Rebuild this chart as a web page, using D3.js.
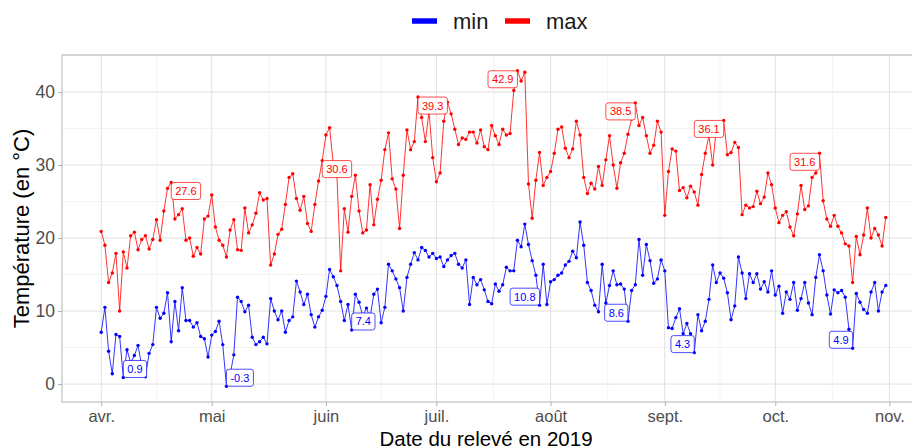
<!DOCTYPE html>
<html>
<head>
<meta charset="utf-8">
<script src="https://cdn.jsdelivr.net/npm/d3@7"></script>
<style>
  body { margin: 0; background: #fff; }
  svg { display: block; font-family: "Liberation Sans", Arial, sans-serif; }
</style>
</head>
<body>
<svg id="chart" width="912" height="448"></svg>
<script>
// Daily readings, one value per day starting on startDate
const startDate = "2019-04-01";

const tminValues = [
  7.1, 10.5, 4.5, 1.4, 6.8, 6.5, 0.9, 4.7, 2.9, 3.9, 5.3, 2.4, 1.0, 4.2, 5.4, 10.5, 9.0, 9.7, 12.5, 5.8,
  11.3, 7.3, 13.2, 8.7, 8.7, 7.8, 8.4, 6.5, 6.2, 3.7,
  6.7, 7.2, 8.6, 5.4, -0.3, 1.3, 4.0, 11.9, 11.3, 9.9, 10.8, 6.4, 5.4, 5.8, 6.4, 5.5, 11.7, 10.0, 8.8, 10.0,
  7.1, 8.7, 9.2, 14.1, 12.6, 10.9, 12.3, 9.5, 7.8, 9.2, 10.1,
  12.0, 15.7, 14.7, 13.5, 11.3, 8.7, 10.9, 7.4, 12.3, 11.2, 9.3, 10.4, 9.1, 12.3, 13.0, 8.4, 10.5, 16.4, 15.5, 14.4,
  13.2, 10.0, 14.6, 16.4, 18.0, 17.0, 18.7, 18.3, 17.4, 17.9,
  17.2, 17.4, 16.1, 17.0, 17.6, 17.9, 16.4, 15.9, 17.0, 10.9, 14.6, 13.6, 14.3, 12.9, 11.3, 11.0, 13.7, 12.7, 13.6, 16.0,
  15.5, 15.5, 19.7, 18.8, 21.9, 19.1, 16.9, 14.9, 10.8, 16.4, 10.9,
  14.0, 14.3, 14.9, 15.2, 16.3, 16.8, 18.2, 17.3, 22.2, 19.0, 13.9, 12.8, 10.8, 9.9, 16.4, 11.1, 13.5, 15.5, 13.6, 13.7,
  13.0, 8.6, 12.8, 13.6, 19.8, 14.9, 19.1, 16.9, 13.8, 14.4, 17.0,
  15.5, 7.7, 7.6, 9.1, 10.3, 6.9, 8.3, 6.9, 4.3, 9.5, 7.3, 8.6, 11.6, 16.3, 13.9, 15.2, 14.5, 12.5, 8.8, 10.7,
  17.4, 15.2, 11.7, 15.1, 13.9, 15.1, 13.0, 14.0, 12.6, 15.5,
  12.2, 13.4, 9.7, 12.6, 11.6, 13.9, 10.1, 11.7, 13.9, 11.1, 9.5, 14.6, 17.7, 15.5, 12.2, 9.6, 12.9, 12.5, 12.8, 11.9,
  7.5, 4.9, 12.4, 11.2, 10.2, 9.7, 12.6, 13.9, 10.0, 12.6, 13.5
];

const tmaxValues = [
  20.9, 19.0, 13.9, 15.2, 17.9, 10.0, 18.1, 15.9, 20.3, 20.8, 18.4, 19.8, 20.3, 18.5, 19.8, 22.5, 19.7, 23.7, 26.8, 27.6,
  22.6, 23.2, 24.0, 19.7, 20.0, 17.5, 18.7, 17.8, 22.6, 23.0,
  25.9, 21.5, 19.7, 19.0, 17.4, 21.1, 22.5, 18.4, 18.3, 24.1, 20.7, 21.8, 23.4, 26.2, 25.2, 25.4, 16.3, 17.8, 20.5, 21.2,
  24.6, 28.3, 28.8, 25.4, 23.8, 25.7, 22.0, 20.9, 24.6, 27.8, 30.6,
  34.1, 35.1, 30.2, 28.5, 15.5, 24.0, 20.8, 25.7, 28.6, 23.7, 20.7, 21.1, 27.3, 21.8, 25.3, 27.9, 32.1, 34.4, 28.1, 26.7,
  21.3, 28.6, 34.8, 32.1, 33.2, 39.3, 36.5, 33.2, 37.3, 31.0,
  27.7, 28.9, 36.0, 38.6, 37.0, 34.9, 32.8, 33.7, 33.5, 34.5, 34.5, 33.0, 34.8, 32.5, 32.1, 35.4, 34.0, 32.8, 34.9, 34.1,
  34.3, 40.2, 42.9, 41.5, 42.7, 27.4, 22.7, 27.9, 31.7, 27.2, 28.3,
  29.1, 31.6, 34.9, 35.2, 32.3, 31.0, 32.2, 36.0, 34.1, 28.3, 26.1, 27.5, 26.7, 29.8, 27.2, 30.7, 34.0, 30.0, 26.8, 30.3,
  31.6, 34.2, 36.3, 38.5, 35.4, 36.5, 34.0, 31.6, 32.7, 36.0, 34.5,
  23.1, 29.1, 32.2, 31.9, 26.5, 26.9, 25.5, 27.1, 26.3, 24.5, 28.7, 31.6, 34.0, 30.0, 35.0, 35.4, 36.1, 31.4, 31.7, 33.1,
  32.4, 23.2, 24.5, 24.1, 24.3, 26.4, 24.7, 25.6, 28.9, 27.3,
  24.1, 22.1, 23.1, 23.6, 21.5, 20.3, 23.3, 27.2, 23.9, 24.4, 28.3, 28.9, 31.6, 25.1, 22.6, 21.6, 23.1, 21.6, 20.7, 19.2,
  18.9, 13.9, 20.2, 17.7, 20.4, 24.1, 20.0, 21.3, 20.4, 18.9, 22.8
];

const monthTickLabels = ["avr.", "mai", "juin", "juil.", "août", "sept.", "oct.", "nov."];
const seriesNames = ["min", "max"];
const seriesColors = ["#0000ff", "#ff0000"];
const xTitle = "Date du relevé en 2019";
const yTitle = "Température (en °C)";

// ---- layout ----
const W = 912, H = 448;
const panel = { left: 62, top: 55, right: 925, bottom: 402 };
const svg = d3.select("#chart");

const t0 = d3.utcParse("%Y-%m-%d")(startDate);
const dates = tminValues.map((_, i) => d3.utcDay.offset(t0, i));
const tEnd = dates[dates.length - 1];
const tSpan = tEnd - t0;

const x = d3.scaleUtc()
  .domain([new Date(+t0 - tSpan * 0.05), new Date(+tEnd + tSpan * 0.05)])
  .range([panel.left, panel.right]);

const [vLo, vHi] = d3.extent(tminValues.concat(tmaxValues));
const vPad = (vHi - vLo) * 0.05;
const y = d3.scaleLinear()
  .domain([vLo - vPad, vHi + vPad])
  .range([panel.bottom, panel.top]);

// clip everything drawn inside the panel
svg.append("defs").append("clipPath").attr("id", "panelClip")
  .append("rect")
  .attr("x", panel.left).attr("y", panel.top)
  .attr("width", panel.right - panel.left).attr("height", panel.bottom - panel.top);

const grid = svg.append("g").attr("clip-path", "url(#panelClip)");

// gridlines: major at axis breaks, minor half-way between them
const yMajor = y.ticks(5);
const yStep = yMajor[1] - yMajor[0];
const yMinor = d3.range(yMajor[0] - yStep / 2, y.domain()[1], yStep).filter(v => v > y.domain()[0]);
const xMajor = d3.utcMonth.range(d3.utcMonth.ceil(x.domain()[0]), x.domain()[1]);
const xMinor = d3.pairs(xMajor).map(([a, b]) => new Date((+a + +b) / 2));

grid.selectAll(".ymin").data(yMinor).join("line")
  .attr("x1", panel.left).attr("x2", panel.right)
  .attr("y1", d => y(d)).attr("y2", d => y(d))
  .attr("stroke", "#ebebeb").attr("stroke-width", 0.6);
grid.selectAll(".xmin").data(xMinor).join("line")
  .attr("y1", panel.top).attr("y2", panel.bottom)
  .attr("x1", d => x(d)).attr("x2", d => x(d))
  .attr("stroke", "#ebebeb").attr("stroke-width", 0.6);
grid.selectAll(".ymaj").data(yMajor).join("line")
  .attr("x1", panel.left).attr("x2", panel.right)
  .attr("y1", d => y(d)).attr("y2", d => y(d))
  .attr("stroke", "#e0e0e0").attr("stroke-width", 1);
grid.selectAll(".xmaj").data(xMajor).join("line")
  .attr("y1", panel.top).attr("y2", panel.bottom)
  .attr("x1", d => x(d)).attr("x2", d => x(d))
  .attr("stroke", "#e0e0e0").attr("stroke-width", 1);

// ---- series ----
const series = [tminValues, tmaxValues].map((vals, k) => ({
  name: seriesNames[k],
  color: seriesColors[k],
  points: vals.map((v, i) => ({ date: dates[i], value: v }))
}));

const line = d3.line().x(d => x(d.date)).y(d => y(d.value));
const marks = svg.append("g").attr("clip-path", "url(#panelClip)");

series.forEach(s => {
  marks.append("path")
    .attr("d", line(s.points))
    .attr("fill", "none")
    .attr("stroke", s.color)
    .attr("stroke-width", 0.8);
  marks.append("g").selectAll("circle").data(s.points).join("circle")
    .attr("cx", d => x(d.date))
    .attr("cy", d => y(d.value))
    .attr("r", 1.7)
    .attr("fill", s.color);
});

// ---- monthly extremes labels (min of the minima, max of the maxima) ----
const monthOf = d => d.date.getUTCMonth();
const extremes = [];
series.forEach((s, k) => {
  d3.groups(s.points, monthOf).forEach(([, pts]) => {
    const p = k === 0 ? d3.least(pts, d => d.value) : d3.greatest(pts, d => d.value);
    extremes.push({ ...p, color: s.color });
  });
});

const cx = (panel.left + panel.right) / 2;
const cy = (panel.top + panel.bottom) / 2;
const labelLayer = svg.append("g");
extremes.forEach(p => {
  const px = x(p.date), py = y(p.value);
  const g = labelLayer.append("g");
  const txt = g.append("text")
    .text(p.value.toFixed(1))
    .attr("font-size", 11)
    .attr("fill", p.color);
  const tw = txt.node().getComputedTextLength();
  const bw = tw + 8, bh = 17;
  // labels are pushed towards the middle of the panel
  const bx = px < cx ? px : px - bw;
  const by = py < cy ? py : py - bh;
  g.insert("rect", "text")
    .attr("x", bx).attr("y", by)
    .attr("width", bw).attr("height", bh)
    .attr("rx", 2.5)
    .attr("fill", "#fff")
    .attr("stroke", p.color)
    .attr("stroke-width", 0.7);
  txt.attr("x", bx + 4).attr("y", by + bh / 2).attr("dy", "0.36em");
});

// ---- panel border ----
svg.append("rect")
  .attr("x", panel.left).attr("y", panel.top)
  .attr("width", panel.right - panel.left).attr("height", panel.bottom - panel.top)
  .attr("fill", "none").attr("stroke", "#b3b3b3").attr("stroke-width", 1);

// ---- axes ----
const xAxis = d3.axisBottom(x)
  .tickValues(xMajor)
  .tickFormat((d, i) => monthTickLabels[i])
  .tickSize(4).tickPadding(4);
const gx = svg.append("g").attr("transform", `translate(0,${panel.bottom})`).call(xAxis);
gx.select(".domain").remove();
gx.selectAll("line").attr("stroke", "#b3b3b3");
gx.selectAll("text").attr("font-size", 16.5).attr("fill", "#4d4d4d").attr("font-family", "Liberation Sans, Arial, sans-serif");

const yAxis = d3.axisLeft(y).tickValues(yMajor).tickSize(4).tickPadding(3);
const gy = svg.append("g").attr("transform", `translate(${panel.left},0)`).call(yAxis);
gy.select(".domain").remove();
gy.selectAll("line").attr("stroke", "#b3b3b3");
gy.selectAll("text").attr("font-size", 17.5).attr("fill", "#4d4d4d").attr("font-family", "Liberation Sans, Arial, sans-serif");

// ---- axis titles ----
svg.append("text")
  .attr("x", 486).attr("y", 445.5)
  .attr("text-anchor", "middle")
  .attr("font-size", 20.5)
  .attr("fill", "#000")
  .text(xTitle);

svg.append("text")
  .attr("transform", `translate(29,${(panel.top + panel.bottom) / 2}) rotate(-90)`)
  .attr("text-anchor", "middle")
  .attr("font-size", 22)
  .attr("fill", "#000")
  .text(yTitle);

// ---- legend ----
const legend = svg.append("g").attr("transform", "translate(412,21)");
const legendX = [0, 93];
series.forEach((s, k) => {
  const g = legend.append("g").attr("transform", `translate(${legendX[k]},0)`);
  g.append("line").attr("x1", 0).attr("x2", 25).attr("y1", 0).attr("y2", 0)
    .attr("stroke", s.color).attr("stroke-width", 5.5);
  g.append("text").attr("x", 41).attr("y", 0).attr("dy", "0.36em")
    .attr("font-size", 22).attr("fill", "#1a1a1a").text(s.name);
});
</script>
</body>
</html>
